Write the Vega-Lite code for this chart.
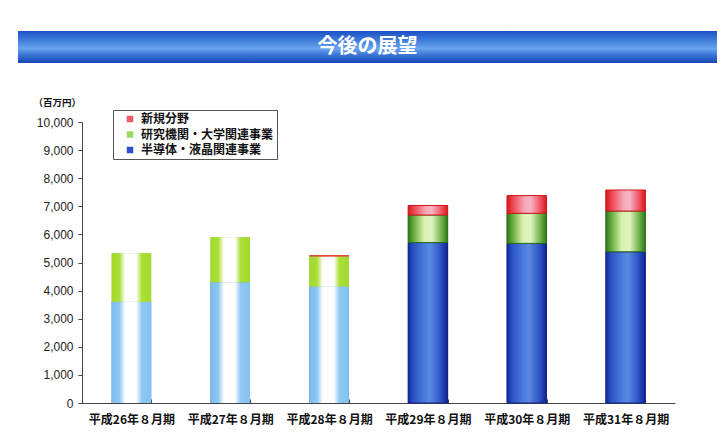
{
  "$schema": "https://vega.github.io/schema/vega-lite/v6.json",
  "background": "white",
  "padding": {"left": 18, "top": 31, "right": 0, "bottom": 0},
  "spacing": 59,
  "bounds": "flush",
  "resolve": {"scale": {"color": "independent"}, "legend": {"color": "independent"}},
  "config": {"view": {"stroke": null}, "font": "Noto Sans CJK JP"},
  "vconcat": [
    {
      "width": 699,
      "height": 32,
      "view": {
        "stroke": null,
        "fill": {
          "gradient": "linear", "x1": 0, "y1": 0, "x2": 0, "y2": 1,
          "stops": [
            {"offset": 0, "color": "#1c50c2"},
            {"offset": 0.25, "color": "#3a76da"},
            {"offset": 0.55, "color": "#6aa4ee"},
            {"offset": 0.75, "color": "#3a74d6"},
            {"offset": 1, "color": "#1846b6"}
          ]
        }
      },
      "data": {"values": [{"t": "今後の展望"}]},
      "mark": {"type": "text", "color": "white", "fontSize": 20, "fontWeight": "bold", "font": "Noto Sans CJK JP"},
      "encoding": {"text": {"field": "t", "type": "nominal"}}
    },
    {
      "width": 699,
      "height": 281,
      "data": {
        "values": [
          {"period": "平成26年８月期", "kind": "実績", "series": "半導体・液晶関連事業", "order": 1, "value": 3600},
          {"period": "平成26年８月期", "kind": "実績", "series": "研究機関・大学関連事業", "order": 2, "value": 1730},
          {"period": "平成27年８月期", "kind": "実績", "series": "半導体・液晶関連事業", "order": 1, "value": 4300},
          {"period": "平成27年８月期", "kind": "実績", "series": "研究機関・大学関連事業", "order": 2, "value": 1600},
          {"period": "平成28年８月期", "kind": "実績", "series": "半導体・液晶関連事業", "order": 1, "value": 4150},
          {"period": "平成28年８月期", "kind": "実績", "series": "研究機関・大学関連事業", "order": 2, "value": 1060},
          {"period": "平成28年８月期", "kind": "実績", "series": "新規分野", "order": 3, "value": 50},
          {"period": "平成29年８月期", "kind": "計画", "series": "半導体・液晶関連事業", "order": 1, "value": 5710},
          {"period": "平成29年８月期", "kind": "計画", "series": "研究機関・大学関連事業", "order": 2, "value": 980},
          {"period": "平成29年８月期", "kind": "計画", "series": "新規分野", "order": 3, "value": 340},
          {"period": "平成30年８月期", "kind": "計画", "series": "半導体・液晶関連事業", "order": 1, "value": 5680},
          {"period": "平成30年８月期", "kind": "計画", "series": "研究機関・大学関連事業", "order": 2, "value": 1070},
          {"period": "平成30年８月期", "kind": "計画", "series": "新規分野", "order": 3, "value": 630},
          {"period": "平成31年８月期", "kind": "計画", "series": "半導体・液晶関連事業", "order": 1, "value": 5380},
          {"period": "平成31年８月期", "kind": "計画", "series": "研究機関・大学関連事業", "order": 2, "value": 1450},
          {"period": "平成31年８月期", "kind": "計画", "series": "新規分野", "order": 3, "value": 750}
        ]
      },
      "transform": [
        {"stack": "value", "groupby": ["period"], "sort": [{"field": "order", "order": "ascending"}], "as": ["v0", "v1"]}
      ],
      "encoding": {
        "x": {
          "field": "period", "type": "nominal",
          "scale": {
            "domain": ["平成26年８月期", "平成27年８月期", "平成28年８月期", "平成29年８月期", "平成30年８月期", "平成31年８月期"],
            "range": [64, 657], "paddingInner": 0.6, "paddingOuter": 0.3
          },
          "axis": {
            "title": null, "labelAngle": 0, "tickBand": "extent", "tickSize": -4,
            "labelPadding": 15, "labelFont": "Noto Sans CJK JP", "labelFontSize": 12,
            "labelFontWeight": "bold", "labelColor": "#111", "domainColor": "#444", "tickColor": "#444", "grid": false
          }
        },
        "y": {
          "field": "v0", "type": "quantitative",
          "scale": {"domain": [0, 10000], "nice": false},
          "axis": {
            "title": "（百万円）", "titleAngle": 0, "titleAlign": "left", "titleBaseline": "middle",
            "titleX": -49, "titleY": -20, "titleFontSize": 9.5, "titleFontWeight": "bold",
            "titleFont": "Noto Sans CJK JP", "titleColor": "#111",
            "format": ",d", "values": [0, 1000, 2000, 3000, 4000, 5000, 6000, 7000, 8000, 9000, 10000],
            "labelFont": "Liberation Sans", "labelFontSize": 12, "labelColor": "#222",
            "tickSize": 4, "tickColor": "#444", "domainColor": "#444", "labelPadding": 5,
            "grid": false, "offset": -64
          }
        },
        "y2": {"field": "v1"}
      },
      "layer": [
        {
          "mark": {"type": "bar"},
          "encoding": {
            "color": {
              "field": "series", "type": "nominal",
              "scale": {
                "domain": ["新規分野", "研究機関・大学関連事業", "半導体・液晶関連事業"],
                "range": ["#ec5a66", "#9ad860", "#3050cc"]
              },
              "legend": {
                "title": null, "orient": "none", "legendX": 95, "legendY": -12, "direction": "vertical",
                "fillColor": "white", "strokeColor": "#555", "padding": 3,
                "symbolType": "square", "symbolSize": 42, "symbolOffset": 8,
                "labelFont": "Noto Sans CJK JP", "labelFontSize": 12, "labelFontWeight": "bold",
                "labelColor": "#111", "rowPadding": 3.5, "labelOffset": 5
              }
            }
          }
        },
        {
          "transform": [{"filter": "datum.kind === '実績' && datum.series === '半導体・液晶関連事業'"}],
          "mark": {"type": "bar", "color": {"gradient": "linear", "x1": 0, "y1": 0, "x2": 1, "y2": 0,
            "stops": [{"offset": 0, "color": "#7cbcf0"}, {"offset": 0.2, "color": "#8ec8f2"}, {"offset": 0.34, "color": "#ffffff"},
                      {"offset": 0.62, "color": "#ffffff"}, {"offset": 0.76, "color": "#8ec8f2"}, {"offset": 1, "color": "#84c2f0"}]}}
        },
        {
          "transform": [{"filter": "datum.kind === '実績' && datum.series === '研究機関・大学関連事業'"}],
          "mark": {"type": "bar", "color": {"gradient": "linear", "x1": 0, "y1": 0, "x2": 1, "y2": 0,
            "stops": [{"offset": 0, "color": "#a0d828"}, {"offset": 0.2, "color": "#acde38"}, {"offset": 0.34, "color": "#ffffff"},
                      {"offset": 0.62, "color": "#ffffff"}, {"offset": 0.76, "color": "#acde38"}, {"offset": 1, "color": "#a2d82c"}]}}
        },
        {
          "transform": [{"filter": "datum.kind === '実績' && datum.series === '新規分野'"}],
          "mark": {"type": "bar", "color": "#d83a1c"}
        },
        {
          "transform": [{"filter": "datum.kind === '計画' && datum.series === '半導体・液晶関連事業'"}],
          "mark": {"type": "bar", "stroke": "#10208c", "strokeWidth": 1, "color": {"gradient": "linear", "x1": 0, "y1": 0, "x2": 1, "y2": 0,
            "stops": [{"offset": 0, "color": "#14289a"}, {"offset": 0.12, "color": "#2a50c4"}, {"offset": 0.42, "color": "#4c7cdc"},
                      {"offset": 0.56, "color": "#5a8ae2"}, {"offset": 0.8, "color": "#3058c8"}, {"offset": 0.92, "color": "#1c38a8"}, {"offset": 1, "color": "#10208c"}]}}
        },
        {
          "transform": [{"filter": "datum.kind === '計画' && datum.series === '研究機関・大学関連事業'"}],
          "mark": {"type": "bar", "stroke": "#2a6a18", "strokeWidth": 1, "color": {"gradient": "linear", "x1": 0, "y1": 0, "x2": 1, "y2": 0,
            "stops": [{"offset": 0, "color": "#2a7a18"}, {"offset": 0.15, "color": "#6aae40"}, {"offset": 0.4, "color": "#d8f0b0"},
                      {"offset": 0.6, "color": "#e0f4c0"}, {"offset": 0.85, "color": "#70b048"}, {"offset": 1, "color": "#2a7a18"}]}}
        },
        {
          "transform": [{"filter": "datum.kind === '計画' && datum.series === '新規分野'"}],
          "mark": {"type": "bar", "stroke": "#d01818", "strokeWidth": 1, "color": {"gradient": "linear", "x1": 0, "y1": 0, "x2": 1, "y2": 0,
            "stops": [{"offset": 0, "color": "#d81818"}, {"offset": 0.18, "color": "#ee5060"}, {"offset": 0.45, "color": "#f6a8b8"},
                      {"offset": 0.6, "color": "#f8b4c4"}, {"offset": 0.85, "color": "#ee5060"}, {"offset": 1, "color": "#d81818"}]}}
        }
      ]
    }
  ]
}
